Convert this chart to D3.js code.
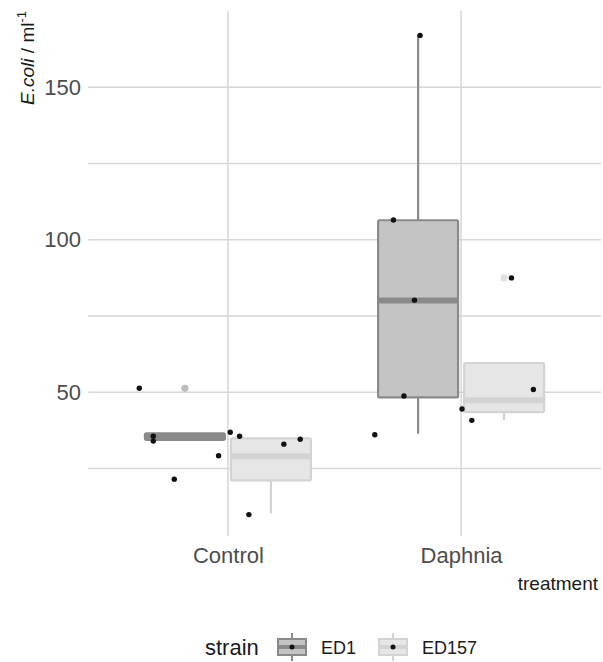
<!DOCTYPE html>
<html>
<head>
<meta charset="utf-8">
<script src="https://cdn.jsdelivr.net/npm/d3@7"></script>
<style>
  body { margin: 0; background: #fff; }
  text { font-family: 'Liberation Sans', Arial, sans-serif; }
</style>
</head>
<body>
<div id="chart"></div>
<script>
'use strict';

// categories
var treatments = ['Control', 'Daphnia'];
var strains = ['ED1', 'ED157'];
var yTicks = [50, 100, 150];
var yMinorTicks = [25, 75, 125];

// box stats per treatment (Control, Daphnia)
var ed1Lower = [34.3, 36.4];
var ed1Q1 = [34.4, 48.3];
var ed1Median = [35.5, 80.1];
var ed1Q3 = [36.5, 106.4];
var ed1Upper = [36.5, 167.0];
var ed1Outliers = [[51.3], []];

var ed157Lower = [10.3, 40.8];
var ed157Q1 = [21.1, 43.5];
var ed157Median = [29.0, 47.4];
var ed157Q3 = [34.9, 59.6];
var ed157Upper = [35.0, 59.6];
var ed157Outliers = [[], [87.5]];

// jittered raw points (value, horizontal jitter as share of the treatment step)
var controlValues = [51.3, 35.6, 34.0, 21.5, 29.2, 36.9, 35.6, 9.9, 33.0, 34.6];
var controlJitter = [-0.38, -0.32, -0.32, -0.23, -0.04, 0.01, 0.05, 0.09, 0.24, 0.31];
var daphniaValues = [167.0, 106.5, 80.2, 48.8, 36.1, 44.5, 40.8, 50.9, 87.5];
var daphniaJitter = [-0.176, -0.29, -0.20, -0.245, -0.37, 0.004, 0.046, 0.31, 0.216];

var fills = ['#c4c4c4', '#e6e6e6'];
var lines = ['#8a8a8a', '#d3d3d3'];
var outlierFills = ['#bcbcbc', '#e2e2e2'];

function boxplot() {
  var scope = {};
  scope.margins = { top: 11, left: 88, right: 2, bottom: 123 };
  scope.width = 603 - scope.margins.left - scope.margins.right;
  scope.height = 662 - scope.margins.top - scope.margins.bottom;

  scope.boxes = [];
  strains.forEach(function(s, si) {
    var src = si === 0
      ? [ed1Lower, ed1Q1, ed1Median, ed1Q3, ed1Upper, ed1Outliers]
      : [ed157Lower, ed157Q1, ed157Median, ed157Q3, ed157Upper, ed157Outliers];
    treatments.forEach(function(t, ti) {
      scope.boxes.push({
        treatment: t, strain: s, si: si,
        lower: src[0][ti], q1: src[1][ti], median: src[2][ti],
        q3: src[3][ti], upper: src[4][ti], outliers: src[5][ti]
      });
    });
  });

  scope.points = [];
  controlValues.forEach(function(v, i) {
    scope.points.push({ treatment: 'Control', value: v, jitter: controlJitter[i] });
  });
  daphniaValues.forEach(function(v, i) {
    scope.points.push({ treatment: 'Daphnia', value: v, jitter: daphniaJitter[i] });
  });

  scope.svg = d3.select('#chart').append('svg')
    .attr('width', 603)
    .attr('height', 662);

  var chart = scope.svg.append('g')
    .attr('transform', 'translate(' + scope.margins.left + ',' + scope.margins.top + ')');

  scope.xScale = d3.scalePoint().domain(treatments).range([0, scope.width]).padding(0.6);
  scope.strainScale = d3.scaleBand().domain(strains).range([-86, 86]);
  scope.yScale = d3.scaleLinear().domain([1.9, 175]).range([scope.height, 0]);

  // grid
  chart.append('g').selectAll('line')
    .data(yMinorTicks.concat(yTicks))
    .enter().append('line')
    .attr('x1', 0).attr('x2', scope.width)
    .attr('y1', function(d) { return scope.yScale(d); })
    .attr('y2', function(d) { return scope.yScale(d); })
    .attr('stroke', '#d6d6d6').attr('stroke-width', 1.5);

  chart.append('g').selectAll('line')
    .data(treatments)
    .enter().append('line')
    .attr('x1', function(d) { return scope.xScale(d); })
    .attr('x2', function(d) { return scope.xScale(d); })
    .attr('y1', 0).attr('y2', scope.height - 3)
    .attr('stroke', '#d6d6d6').attr('stroke-width', 1.5);

  // axes
  var yAxis = d3.axisLeft(scope.yScale).tickValues(yTicks).tickSize(0).tickPadding(7);
  var yg = chart.append('g').call(yAxis);
  yg.select('.domain').remove();
  yg.selectAll('text').attr('font-size', 22).attr('fill', '#4d4d4d')
    .attr('font-family', "'Liberation Sans', Arial, sans-serif");

  var xAxis = d3.axisBottom(scope.xScale).tickSize(0).tickPadding(8);
  var xg = chart.append('g').attr('transform', 'translate(0,' + scope.height + ')').call(xAxis);
  xg.select('.domain').remove();
  xg.selectAll('text').attr('font-size', 22).attr('fill', '#4d4d4d')
    .attr('font-family', "'Liberation Sans', Arial, sans-serif");

  // boxes
  var bw = scope.strainScale.bandwidth() * 0.93;
  function cx(d) { return scope.xScale(d.treatment) + scope.strainScale(d.strain) + scope.strainScale.bandwidth() / 2; }

  var box = chart.append('g').selectAll('g')
    .data(scope.boxes)
    .enter().append('g');

  box.append('line')
    .attr('x1', cx).attr('x2', cx)
    .attr('y1', function(d) { return scope.yScale(d.upper); })
    .attr('y2', function(d) { return scope.yScale(d.q3); })
    .attr('stroke', function(d) { return lines[d.si]; }).attr('stroke-width', 2.2);
  box.append('line')
    .attr('x1', cx).attr('x2', cx)
    .attr('y1', function(d) { return scope.yScale(d.q1); })
    .attr('y2', function(d) { return scope.yScale(d.lower); })
    .attr('stroke', function(d) { return lines[d.si]; }).attr('stroke-width', 2.2);
  box.append('rect')
    .attr('x', function(d) { return cx(d) - bw / 2; })
    .attr('width', bw)
    .attr('y', function(d) { return scope.yScale(d.q3); })
    .attr('height', function(d) { return scope.yScale(d.q1) - scope.yScale(d.q3); })
    .attr('rx', 1.5)
    .attr('fill', function(d) { return fills[d.si]; })
    .attr('stroke', function(d) { return lines[d.si]; }).attr('stroke-width', 2.2);
  box.append('line')
    .attr('x1', function(d) { return cx(d) - bw / 2; })
    .attr('x2', function(d) { return cx(d) + bw / 2; })
    .attr('y1', function(d) { return scope.yScale(d.median); })
    .attr('y2', function(d) { return scope.yScale(d.median); })
    .attr('stroke', function(d) { return lines[d.si]; }).attr('stroke-width', 6);
  box.selectAll('circle')
    .data(function(d) { return d.outliers.map(function(v) { return { v: v, b: d }; }); })
    .enter().append('circle')
    .attr('cx', function(o) { return cx(o.b); })
    .attr('cy', function(o) { return scope.yScale(o.v); })
    .attr('r', 3.6)
    .attr('fill', function(o) { return outlierFills[o.b.si]; });

  // jittered points
  var step = scope.xScale.step();
  chart.append('g').selectAll('circle')
    .data(scope.points)
    .enter().append('circle')
    .attr('cx', function(d) { return scope.xScale(d.treatment) + d.jitter * step; })
    .attr('cy', function(d) { return scope.yScale(d.value); })
    .attr('r', 2.7)
    .attr('fill', '#111');

  // axis titles
  var yt = scope.svg.append('text')
    .attr('transform', 'translate(34,11) rotate(-90)')
    .attr('text-anchor', 'end')
    .attr('font-size', 19)
    .attr('fill', '#1a1a1a');
  yt.append('tspan').attr('font-style', 'italic').text('E.coli');
  yt.append('tspan').text(' / ml');
  yt.append('tspan').attr('font-size', 13).attr('dy', -8).text('-1');

  scope.svg.append('text')
    .attr('x', 598).attr('y', 590)
    .attr('text-anchor', 'end')
    .attr('font-size', 19)
    .attr('fill', '#1a1a1a')
    .text('treatment');

  // legend
  var legend = scope.svg.append('g').attr('transform', 'translate(0,647)');
  legend.append('text')
    .attr('x', 205).attr('y', 7.5)
    .attr('font-size', 22).attr('fill', '#1a1a1a')
    .text('strain');

  var keyX = [277, 378];
  var item = legend.selectAll('.legend')
    .data(strains)
    .enter().append('g')
    .attr('class', 'legend')
    .attr('transform', function(d, i) { return 'translate(' + keyX[i] + ',0)'; });

  item.append('line')
    .attr('x1', 15).attr('x2', 15).attr('y1', -14).attr('y2', 14)
    .attr('stroke', function(d, i) { return lines[i]; }).attr('stroke-width', 2);
  item.append('rect')
    .attr('x', 1).attr('y', -8).attr('width', 28).attr('height', 16)
    .attr('fill', function(d, i) { return fills[i]; })
    .attr('stroke', function(d, i) { return lines[i]; }).attr('stroke-width', 2);
  item.append('line')
    .attr('x1', 1).attr('x2', 29).attr('y1', 0).attr('y2', 0)
    .attr('stroke', function(d, i) { return lines[i]; }).attr('stroke-width', 4);
  item.append('circle')
    .attr('cx', 15).attr('cy', 0).attr('r', 2.5).attr('fill', '#111');
  item.append('text')
    .attr('x', 44).attr('y', 6.5)
    .attr('font-size', 18).attr('fill', '#1a1a1a')
    .text(function(d) { return d; });

  return scope.svg;
}

boxplot();
</script>
</body>
</html>
